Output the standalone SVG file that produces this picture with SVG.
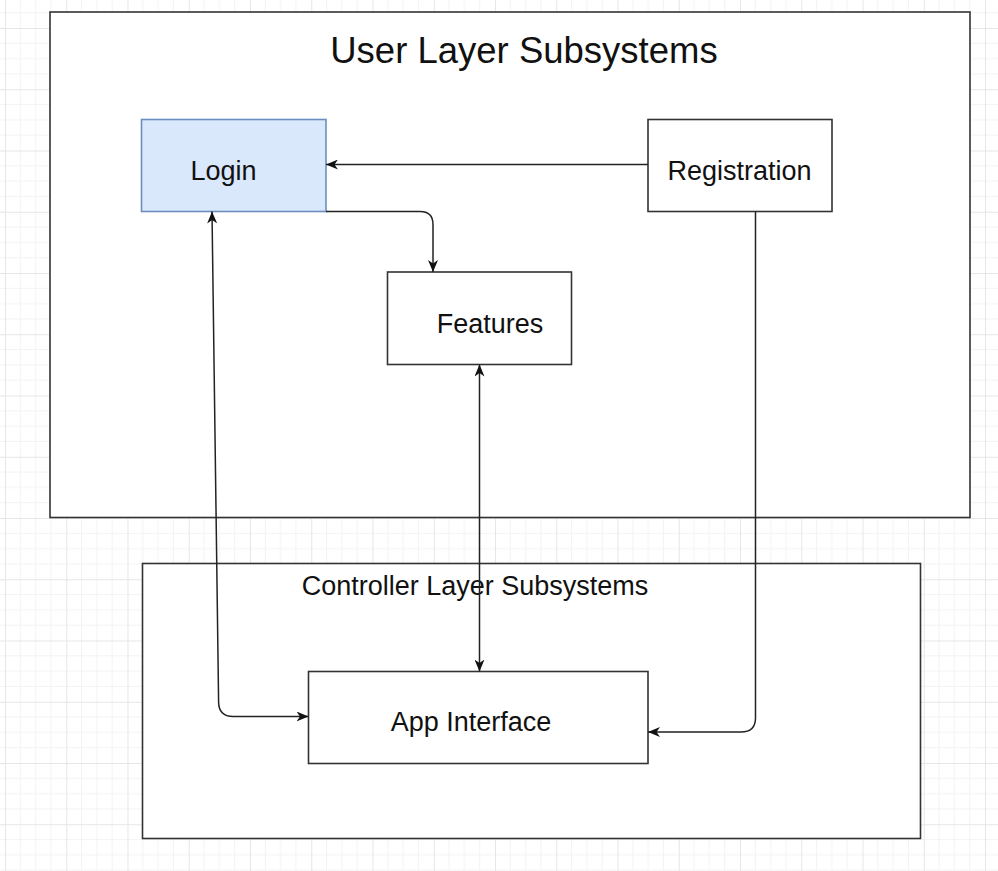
<svg xmlns="http://www.w3.org/2000/svg" width="998" height="871" viewBox="0 0 998 871">
  <style>
    .box { fill: #ffffff; stroke: #333333; stroke-width: 1.6; }
    .login { fill: #dae8fc; stroke: #6c8ebf; stroke-width: 1.6; }
    .lbl { font-family: "Liberation Sans", Arial, Helvetica, sans-serif; font-size: 27px; fill: #111111; }
    .title { font-family: "Liberation Sans", Arial, Helvetica, sans-serif; font-size: 36.5px; fill: #111111; }
    .edge { fill: none; stroke: #222222; stroke-width: 1.5; }
  </style>
  <defs>
    <pattern id="grid" patternUnits="userSpaceOnUse" x="5" y="28" width="61.25" height="61.25">
      <path d="M15.3125,0 V61.25 M30.625,0 V61.25 M45.9375,0 V61.25 M0,15.3125 H61.25 M0,30.625 H61.25 M0,45.9375 H61.25" stroke="#f3f3f3" stroke-width="1" fill="none"/>
      <path d="M0.5,0 V61.25 M0,0.5 H61.25" stroke="#e6e6e6" stroke-width="1" fill="none"/>
    </pattern>
    <marker id="arrow" markerUnits="userSpaceOnUse" viewBox="0 0 12 10" refX="12" refY="5" markerWidth="12" markerHeight="10" orient="auto-start-reverse">
      <path d="M0,0 L12,5 L0,10 L3.5,5 Z" fill="#111111"/>
    </marker>
  </defs>

  <rect x="0" y="0" width="998" height="871" fill="#ffffff"/>
  <rect x="0" y="0" width="998" height="871" fill="url(#grid)"/>

  <g id="user-layer">
    <rect class="box" x="50" y="12" width="920" height="505.5"/>
    <text class="title" x="524" y="63" text-anchor="middle">User Layer Subsystems</text>
  </g>

  <g id="controller-layer">
    <rect class="box" x="142.5" y="563.5" width="778" height="275"/>
    <text class="lbl" x="475" y="595" text-anchor="middle">Controller Layer Subsystems</text>
  </g>

  <g id="login">
    <rect class="login" x="141.5" y="119.5" width="184.5" height="92"/>
    <text class="lbl" x="223.5" y="180" text-anchor="middle">Login</text>
  </g>

  <g id="registration">
    <rect class="box" x="648" y="119.5" width="184" height="92"/>
    <text class="lbl" x="739.5" y="180" text-anchor="middle">Registration</text>
  </g>

  <g id="features">
    <rect class="box" x="387.5" y="272" width="184" height="92.5"/>
    <text class="lbl" x="490" y="333" text-anchor="middle">Features</text>
  </g>

  <g id="app-interface">
    <rect class="box" x="308.5" y="671.5" width="339.5" height="92"/>
    <text class="lbl" x="471" y="731" text-anchor="middle">App Interface</text>
  </g>

  <g id="connectors">
    <path class="edge" d="M648,164.5 H326" marker-end="url(#arrow)"/>
    <path class="edge" d="M326,211.5 H420 Q433,211.5 433,224.5 V272" marker-end="url(#arrow)"/>
    <path class="edge" d="M212,211.5 L218.6,702 Q218.8,716.5 233,716.5 H308.5" marker-start="url(#arrow)" marker-end="url(#arrow)"/>
    <path class="edge" d="M479.5,364.5 V671.5" marker-start="url(#arrow)" marker-end="url(#arrow)"/>
    <path class="edge" d="M755.5,211.5 V718 Q755.5,732 741,732 H648" marker-end="url(#arrow)"/>
  </g>
</svg>
